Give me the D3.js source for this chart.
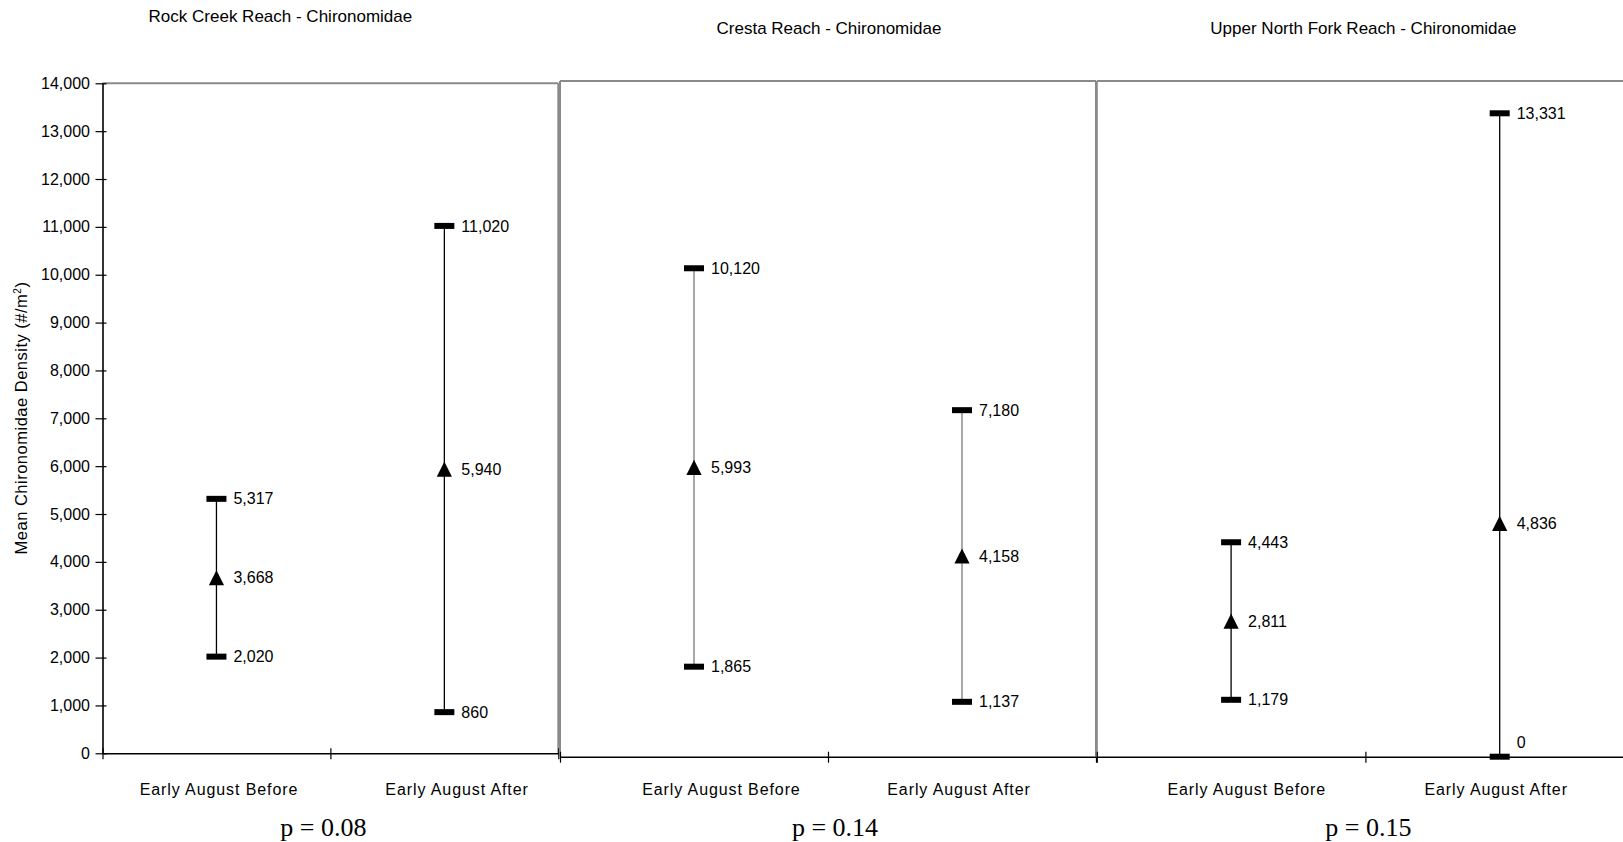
<!DOCTYPE html>
<html><head><meta charset="utf-8">
<script src="https://cdn.jsdelivr.net/npm/d3@7"></script>
<style>
body{margin:0;background:#fff}
text{font-family:"Liberation Sans",Arial,sans-serif;fill:#000}
</style>
</head><body>
<svg id="c" width="1623" height="842"></svg>
<script>
// ---- data ----
const panelTitles = ["Rock Creek Reach - Chironomidae", "Cresta Reach - Chironomidae", "Upper North Fork Reach - Chironomidae"];
const categories = ["Early August Before", "Early August After"];
const upperValues = [[5317, 11020], [10120, 7180], [4443, 13331]];
const meanValues  = [[3668, 5940], [5993, 4158], [2811, 4836]];
const lowerValues = [[2020, 860], [1865, 1137], [1179, 0]];
const pLabels = ["p = 0.08", "p = 0.14", "p = 0.15"];
const yTickValues = [0, 1000, 2000, 3000, 4000, 5000, 6000, 7000, 8000, 9000, 10000, 11000, 12000, 13000, 14000];
const yDomain = [0, 14000];
const yTitle = "Mean Chironomidae Density (#/m";

// ---- layout ----
const layout = [
  {x0: 102.5, x1: 558.3, yTop: 83.3, yBot: 753.3, titleDx: -50, titleY: 22.3, pDx: -7, labelDx: [2.5, 12.7], whisker: "#000", leftBorder: false},
  {x0: 560, x1: 1096, yTop: 81, yBot: 756.7, titleDx: 1, titleY: 34.3, pDx: 7, labelDx: [27.4, -3], whisker: "#7a7a7a", leftBorder: true},
  {x0: 1096.8, x1: 1634, yTop: 81, yBot: 756.7, titleDx: -2, titleY: 34.3, pDx: 3, labelDx: [15.6, -3.5], whisker: "#000", leftBorder: true}
];

const svg = d3.select("#c");
const fmt = d3.format(",");
const tri = {draw(ctx, size) { const h = 7.6, w = 7.6; ctx.moveTo(0, -h); ctx.lineTo(w, h); ctx.lineTo(-w, h); ctx.closePath(); }};

layout.forEach((L, i) => {
  const g = svg.append("g");
  const x = d3.scalePoint().domain(categories).range([L.x0, L.x1]).padding(0.5);
  const xb = d3.scaleLinear().domain([0, categories.length]).range([L.x0, L.x1]);
  const y = d3.scaleLinear().domain(yDomain).range([L.yBot, L.yTop]);
  const cx = (L.x0 + L.x1) / 2;

  // gray frame
  const frame = g.append("g").attr("stroke", "#8a8a8a").attr("stroke-width", 2).attr("fill", "none");
  frame.append("line").attr("x1", L.x0).attr("x2", L.x1).attr("y1", L.yTop).attr("y2", L.yTop);
  frame.append("line").attr("x1", L.x1).attr("x2", L.x1).attr("y1", L.yTop).attr("y2", L.yBot);
  if (L.leftBorder) frame.append("line").attr("x1", L.x0).attr("x2", L.x0).attr("y1", L.yTop).attr("y2", L.yBot);

  // x axis
  const xa = g.append("g").attr("transform", `translate(0,${L.yBot})`)
    .call(d3.axisBottom(xb).tickValues(d3.range(categories.length + 1)).tickFormat("").tickSizeOuter(0).tickSizeInner(6));
  xa.select(".domain").attr("stroke", "#000").attr("stroke-width", 1.6);
  xa.selectAll(".tick line").attr("stroke", "#000").attr("stroke-width", 1.2).attr("y1", -5).attr("y2", 6);

  // y axis (first panel only)
  if (i === 0) {
    const ya = g.append("g").attr("transform", `translate(${L.x0},0)`)
      .call(d3.axisLeft(y).tickValues(yTickValues).tickFormat(fmt).tickSizeOuter(0).tickSizeInner(7).tickPadding(5.5));
    ya.select(".domain").attr("stroke", "#000").attr("stroke-width", 1.6);
    ya.selectAll(".tick line").attr("stroke", "#000").attr("stroke-width", 1.2).attr("x1", 4);
    ya.selectAll(".tick text").style("font-size", "16px").attr("fill", "#000");
  }

  // whiskers
  categories.forEach((c, j) => {
    const xc = x(c);
    g.append("line").attr("x1", xc).attr("x2", xc)
      .attr("y1", y(upperValues[i][j])).attr("y2", y(lowerValues[i][j]))
      .attr("stroke", L.whisker).attr("stroke-width", 1.3);
    [upperValues[i][j], lowerValues[i][j]].forEach(v => {
      g.append("rect").attr("x", xc - 10).attr("y", y(v) - 3).attr("width", 20).attr("height", 6).attr("fill", "#000");
    });
    g.append("path").attr("d", d3.symbol().type(tri)())
      .attr("transform", `translate(${xc},${y(meanValues[i][j])})`).attr("fill", "#000");
    [upperValues[i][j], meanValues[i][j], lowerValues[i][j]].forEach(v => {
      g.append("text").attr("x", xc + 17).attr("y", Math.min(y(v), L.yBot - 14)).attr("dy", "0.35em")
        .style("font-size", "16px").text(fmt(v));
    });
    g.append("text").attr("x", xc + L.labelDx[j]).attr("y", 795).attr("text-anchor", "middle")
      .style("font-size", "16px").style("letter-spacing", "0.9px").text(c);
  });

  // title
  g.append("text").attr("x", cx + L.titleDx).attr("y", L.titleY).attr("text-anchor", "middle")
    .style("font-size", "17px").text(panelTitles[i]);

  // p value
  g.append("text").attr("x", cx + L.pDx).attr("y", 836).attr("text-anchor", "middle")
    .style("font-family", "'Liberation Serif','Times New Roman',serif").style("font-size", "26px").text(pLabels[i]);
});

// y axis title
const yt = svg.append("text").attr("transform", "translate(26.5,418) rotate(-90)").attr("text-anchor", "middle")
  .style("font-size", "16.5px").style("letter-spacing", "0.5px");
yt.append("tspan").text(yTitle);
yt.append("tspan").attr("dy", -6).style("font-size", "10px").text("2");
yt.append("tspan").attr("dy", 6).text(")");
</script>
</body></html>
